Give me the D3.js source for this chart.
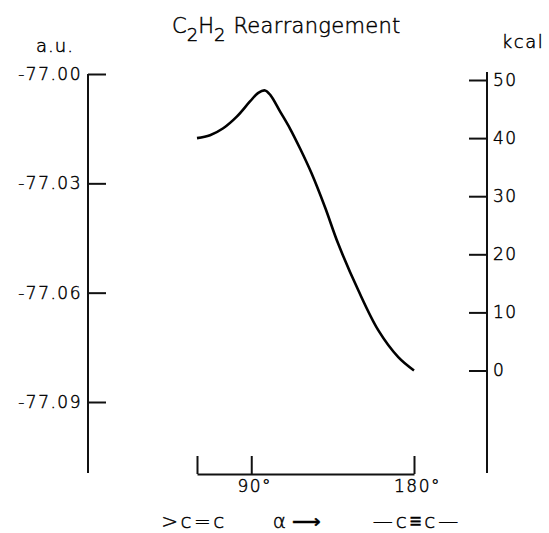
<!DOCTYPE html>
<html><head><meta charset="utf-8">
<script src="https://cdn.jsdelivr.net/npm/d3@7"></script>
<style>
body{margin:0;background:#fff;}
text{font-family:"DejaVu Sans",sans-serif;font-weight:200;fill:#000;stroke:#000;stroke-width:0.45px;}
</style></head>
<body><svg id="c" width="549" height="533"></svg>
<script>
// data
const angles = [60, 67.2, 74.5, 82.0, 89.3, 93.9, 97.6, 100.6, 105.9, 111.5, 117.0, 123.4, 130.8, 138.1, 149.2, 160.3, 171.3, 180];
const energyKcal = [40.0, 40.5, 41.7, 43.7, 46.3, 47.8, 48.2, 47.4, 44.6, 41.6, 38.2, 33.9, 28.1, 21.8, 13.8, 6.9, 2.3, 0];
const auTicks = [-77.00, -77.03, -77.06, -77.09];
const kcalTicks = [0, 10, 20, 30, 40, 50];
const angleTicks = [60, 90, 180];
const angleTickLabels = ["", "90°", "180°"];
const bottomLabels = [">c=c", "α ⟶", "—c≡c—"];

const svg = d3.select("#c");
const x = d3.scaleLinear().domain([60, 180]).range([197, 414]);
const yAU = d3.scaleLinear().domain([-77.09, -77.00]).range([402, 74]);
const yK = d3.scaleLinear().domain([0, 50]).range([370.5, 80]);

const axisColor = "#111";

// left axis
const gL = svg.append("g").attr("transform", "translate(88,0)");
gL.append("line").attr("y1", 74).attr("y2", 473).attr("stroke", axisColor).attr("stroke-width", 2);
gL.call(d3.axisLeft(yAU).tickValues(auTicks).tickSizeInner(-18).tickSizeOuter(0).tickPadding(6)
  .tickFormat(d3.format(".2f")));
gL.select(".domain").remove();
gL.selectAll(".tick line").attr("stroke", axisColor).attr("stroke-width", 2);
gL.selectAll(".tick text").attr("font-size", 17).attr("letter-spacing", 1.5).attr("fill", "#000")
  .text(d => "-" + Math.abs(d).toFixed(2));

// right axis
const gR = svg.append("g").attr("transform", "translate(487,0)");
gR.append("line").attr("y1", 72).attr("y2", 473).attr("stroke", axisColor).attr("stroke-width", 2);
gR.call(d3.axisRight(yK).tickValues(kcalTicks).tickSizeInner(-18).tickSizeOuter(0).tickPadding(6));
gR.select(".domain").remove();
gR.selectAll(".tick line").attr("stroke", axisColor).attr("stroke-width", 2);
gR.selectAll(".tick text").attr("font-size", 17).attr("letter-spacing", 1.5).attr("fill", "#000");

// bottom axis
const gB = svg.append("g").attr("transform", "translate(0,474)");
gB.call(d3.axisBottom(x).tickValues(angleTicks).tickSizeInner(-18).tickSizeOuter(0).tickPadding(6)
  .tickFormat((d, i) => angleTickLabels[i]));
gB.select(".domain").attr("stroke", axisColor).attr("stroke-width", 2);
gB.selectAll(".tick line").attr("stroke", axisColor).attr("stroke-width", 2);
gB.selectAll(".tick text").attr("font-size", 17).attr("letter-spacing", 1.5).attr("fill", "#000")
  .attr("dx", 3);

// curve
const line = d3.line().x((d, i) => x(angles[i])).y(d => yK(d)).curve(d3.curveCatmullRom.alpha(0.5));
svg.append("path").datum(energyKcal).attr("d", line).attr("fill", "none")
  .attr("stroke", "#000").attr("stroke-width", 2.6).attr("stroke-linejoin", "round");

// title
const t = svg.append("text").attr("x", 172).attr("y", 33).attr("font-size", 21);
t.append("tspan").text("C");
t.append("tspan").attr("dy", 8).attr("font-size", 18).text("2");
t.append("tspan").attr("dy", -8).text("H");
t.append("tspan").attr("dy", 8).attr("font-size", 18).text("2");
t.append("tspan").attr("dy", -8).attr("dx", 8).attr("letter-spacing", 0.3).text("Rearrangement");

// unit labels
svg.append("text").attr("x", 55).attr("y", 52).attr("text-anchor", "middle").attr("font-size", 18)
  .attr("letter-spacing", 1).text("a.u.");
svg.append("text").attr("x", 523).attr("y", 48).attr("text-anchor", "middle").attr("font-size", 18)
  .attr("letter-spacing", 1.5).text("kcal");

// bottom labels
const bx = [194, 297, 417];
const bls = [2.5, 0, 3];
svg.selectAll(".bl").data(bottomLabels).join("text").attr("class", "bl")
  .attr("x", (d, i) => bx[i]).attr("y", 528).attr("text-anchor", "middle").attr("font-size", 20)
  .attr("letter-spacing", (d, i) => bls[i])
  .text(d => d);
</script></body></html>
